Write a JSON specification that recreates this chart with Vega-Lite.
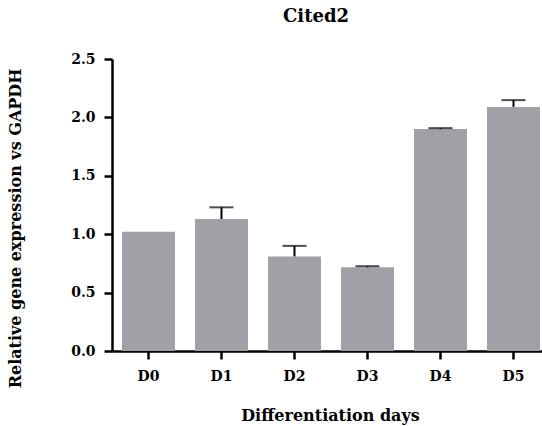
{
  "$schema": "https://vega.github.io/schema/vega-lite/v6.json",
  "autosize": "none",
  "width": 430,
  "height": 292,
  "padding": {"left": 112, "top": 59, "right": 0, "bottom": 75},
  "background": "white",
  "title": {
    "text": "Cited2",
    "font": "DejaVu Serif",
    "fontSize": 18,
    "fontWeight": "bold",
    "color": "black",
    "anchor": "middle",
    "dx": -11,
    "offset": 26
  },
  "data": {
    "values": [
      {"day": "D0", "mean": 1.02, "upper": null},
      {"day": "D1", "mean": 1.13, "upper": 1.23},
      {"day": "D2", "mean": 0.81, "upper": 0.90},
      {"day": "D3", "mean": 0.717, "upper": 0.726},
      {"day": "D4", "mean": 1.90, "upper": 1.908},
      {"day": "D5", "mean": 2.09, "upper": 2.148}
    ]
  },
  "encoding": {
    "x": {
      "field": "day",
      "type": "nominal",
      "sort": null,
      "scale": {"paddingInner": 0.274, "paddingOuter": 0.082, "align": 0.833},
      "axis": {
        "title": "Differentiation days",
        "labelAngle": 0,
        "labelFont": "DejaVu Serif",
        "labelFontSize": 14,
        "labelFontWeight": "bold",
        "labelColor": "black",
        "labelPadding": 10,
        "titleFont": "DejaVu Serif",
        "titleFontSize": 16,
        "titleFontWeight": "bold",
        "titleColor": "black",
        "titleBaseline": "middle",
        "titleX": 218,
        "titleY": 64,
        "domainColor": "black",
        "domainWidth": 2.5,
        "tickColor": "black",
        "tickWidth": 2.5,
        "tickSize": 8,
        "grid": false
      }
    }
  },
  "layer": [
    {
      "mark": {"type": "bar", "color": "#a1a0a6"},
      "encoding": {
        "y": {
          "field": "mean",
          "type": "quantitative",
          "scale": {"domain": [0, 2.5], "nice": false},
          "axis": {
            "title": "Relative gene expression vs GAPDH",
            "values": [0, 0.5, 1, 1.5, 2, 2.5],
            "format": ".1f",
            "labelFont": "DejaVu Serif",
            "labelFontSize": 14,
            "labelFontWeight": "bold",
            "labelColor": "black",
            "labelPadding": 9,
            "titleFont": "DejaVu Serif",
            "titleFontSize": 16,
            "titleFontWeight": "bold",
            "titleColor": "black",
            "titleBaseline": "middle",
            "titleX": -97,
            "titleY": 169,
            "domainColor": "black",
            "domainWidth": 2.5,
            "tickColor": "black",
            "tickWidth": 2.5,
            "tickSize": 8,
            "grid": false
          }
        }
      }
    },
    {
      "transform": [{"filter": "datum.upper != null"}],
      "mark": {"type": "rule", "color": "black", "strokeWidth": 2},
      "encoding": {
        "y": {"field": "mean", "type": "quantitative"},
        "y2": {"field": "upper"}
      }
    },
    {
      "transform": [{"filter": "datum.upper != null"}],
      "mark": {"type": "tick", "color": "black", "thickness": 2, "size": 24, "orient": "horizontal"},
      "encoding": {
        "y": {"field": "upper", "type": "quantitative"}
      }
    }
  ],
  "config": {"view": {"stroke": null}}
}
